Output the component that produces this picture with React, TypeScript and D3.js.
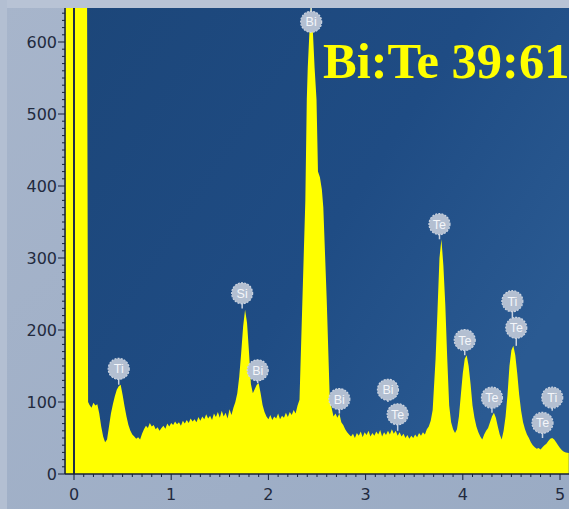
import React from "react";
import * as d3 from "d3";

const W = 569;
const H = 509;

const energies = [
  -0.09, 0.13, 0.145, 0.16, 0.18, 0.2, 0.22, 0.24, 0.26, 0.28, 0.3, 0.32, 0.34, 0.36, 0.38, 0.4, 0.42, 0.44, 0.46, 0.48,
  0.5, 0.52, 0.54, 0.56, 0.58, 0.6, 0.62, 0.64, 0.66, 0.68, 0.7, 0.72, 0.74, 0.76, 0.78, 0.8, 0.82, 0.84, 0.86, 0.88,
  0.9, 0.92, 0.94, 0.96, 0.98, 1.0, 1.02, 1.04, 1.06, 1.08, 1.1, 1.12, 1.14, 1.16, 1.18, 1.2, 1.22, 1.24, 1.26, 1.28,
  1.3, 1.32, 1.34, 1.36, 1.38, 1.4, 1.42, 1.44, 1.46, 1.48, 1.5, 1.52, 1.54, 1.56, 1.58, 1.6, 1.62, 1.64, 1.66, 1.68,
  1.7, 1.72, 1.74, 1.76, 1.78, 1.8, 1.82, 1.84, 1.86, 1.88, 1.9, 1.92, 1.94, 1.96, 1.98, 2.0, 2.02, 2.04, 2.06, 2.08,
  2.1, 2.12, 2.14, 2.16, 2.18, 2.2, 2.22, 2.24, 2.26, 2.28, 2.3, 2.32, 2.35, 2.38, 2.395, 2.405, 2.44, 2.475, 2.495, 2.51,
  2.53, 2.55, 2.565, 2.6, 2.63, 2.65, 2.67, 2.69, 2.71, 2.73, 2.75, 2.77, 2.79, 2.81, 2.83, 2.85, 2.87, 2.89, 2.91, 2.93,
  2.95, 2.97, 2.99, 3.01, 3.03, 3.05, 3.07, 3.09, 3.11, 3.13, 3.15, 3.17, 3.19, 3.21, 3.23, 3.25, 3.27, 3.29, 3.31, 3.33,
  3.35, 3.37, 3.39, 3.41, 3.43, 3.45, 3.47, 3.49, 3.51, 3.53, 3.55, 3.57, 3.59, 3.61, 3.63, 3.65, 3.67, 3.69, 3.72, 3.74,
  3.76, 3.78, 3.8, 3.82, 3.84, 3.86, 3.88, 3.9, 3.92, 3.94, 3.96, 3.98, 4.0, 4.02, 4.04, 4.06, 4.08, 4.1, 4.12, 4.14,
  4.16, 4.18, 4.2, 4.22, 4.24, 4.26, 4.28, 4.3, 4.32, 4.34, 4.36, 4.38, 4.4, 4.42, 4.44, 4.46, 4.48, 4.5, 4.52, 4.54,
  4.56, 4.58, 4.6, 4.62, 4.64, 4.66, 4.68, 4.7, 4.72, 4.74, 4.76, 4.78, 4.8, 4.82, 4.84, 4.86, 4.88, 4.9, 4.92, 4.94,
  4.96, 4.98, 5.0, 5.02, 5.04, 5.06, 5.09,
];

const counts = [
  900, 900, 100, 96, 92, 99, 95, 97, 84, 66, 52, 44, 48, 66, 84, 97, 108, 117, 122, 124,
  110, 94, 80, 68, 60, 55, 52, 49, 51, 48, 56, 62, 67, 64, 71, 66, 68, 62, 65, 60,
  64, 67, 63, 70, 66, 71, 68, 73, 69, 72, 67, 74, 70, 75, 71, 77, 73, 76, 72, 79,
  74, 80, 76, 83, 77, 81, 75, 84, 79, 86, 78, 88, 80, 85, 77, 90, 82, 92, 100, 112,
  135, 168, 205, 228, 210, 170, 125, 112, 118, 124, 126, 112, 96, 86, 80, 76, 82, 75, 80, 77,
  84, 76, 81, 78, 85, 79, 86, 82, 89, 84, 95, 103, 242, 380, 520, 565, 665, 565, 520, 420,
  412, 395, 370, 242, 110, 92, 80, 84, 78, 84, 72, 68, 62, 58, 55, 52, 56, 50, 57, 53,
  59, 51, 58, 54, 60, 52, 57, 53, 59, 55, 61, 52, 58, 54, 60, 55, 62, 56, 60, 53,
  58, 52, 56, 50, 54, 49, 53, 50, 55, 51, 57, 53, 58, 55, 62, 66, 74, 89, 160, 228,
  300, 326, 290, 235, 160, 95, 72, 62, 57, 62, 80, 110, 140, 160, 165, 150, 125, 95, 78, 66,
  58, 52, 48, 55, 60, 64, 72, 80, 85, 78, 66, 55, 48, 60, 80, 110, 150, 172, 178, 165,
  140, 110, 88, 72, 62, 55, 50, 44, 40, 37, 35, 36, 34, 37, 40, 42, 46, 49, 50, 48,
  44, 40, 36, 33, 31, 30, 29,
];

// peak marker badges: element, badge centre (energy, counts), stem end counts
const badgeText = ["Ti", "Si", "Bi", "Bi", "Bi", "Bi", "Te", "Te", "Te", "Te", "Ti", "Te", "Ti", "Te"];
const badgeEnergy = [0.46, 1.73, 1.89, 2.44, 2.73, 3.23, 3.33, 3.76, 4.02, 4.30, 4.51, 4.55, 4.92, 4.82];
const badgeCount = [146, 251, 144, 628, 104, 117, 83, 347, 186, 106, 240, 203, 106, 71];
const stemCount = [124, 230, 126, 652, 84, 100, 60, 326, 165, 85, 215, 178, 88, 50];

const yTicks = [0, 100, 200, 300, 400, 500, 600];
const xTicks = [0, 1, 2, 3, 4, 5];
const title = "Bi:Te 39:61";

export default function App() {
  const left = 65;
  const right = 569;
  const top = 8;
  const bottom = 474;

  const x = d3.scaleLinear().domain([0, 5]).range([74, 560]);
  const y = d3.scaleLinear().domain([0, 600]).range([474, 42]);
  const yMax = y.invert(top);

  const data = energies.map((e, i) => ({ e, c: counts[i] }));
  const area = d3
    .area<{ e: number; c: number }>()
    .x((d) => x(d.e))
    .y0(y(0))
    .y1((d) => y(d.c))
    .curve(d3.curveLinear);

  const minorY = d3.range(0, yMax, 10);
  const minorX = d3.range(0, 5.1, 0.1).map((v) => Math.round(v * 10) / 10);

  const axisColor = "#16213a";
  const labelColor = "#222a3e";
  const labelFont = "DejaVu Sans, Verdana, sans-serif";

  return (
    <svg width={W} height={H} style={{ position: "absolute", left: 0, top: 0 }}>
      <defs>
        <linearGradient id="bg" x1="0" y1="0" x2="1" y2="1">
          <stop offset="0" stopColor="#a7b5cb" />
          <stop offset="1" stopColor="#9aabc4" />
        </linearGradient>
        <linearGradient id="plotbg" x1="0" y1="0" x2="1" y2="0.6">
          <stop offset="0" stopColor="#1c4679" />
          <stop offset="0.6" stopColor="#1f4c84" />
          <stop offset="1" stopColor="#2a5a92" />
        </linearGradient>
        <clipPath id="plotclip">
          <rect x={left} y={top} width={right - left} height={bottom - top} />
        </clipPath>
      </defs>
      <rect x={0} y={0} width={W} height={H} fill="url(#bg)" />
      <rect x={0} y={0} width={W} height={top} fill="#b8c3d5" />
      <rect x={0} y={0} width={7} height={H} fill="#b3bfd2" />
      <rect x={left} y={top} width={right - left} height={bottom - top} fill="url(#plotbg)" />

      <g clipPath="url(#plotclip)">
        <path d={area(data) || ""} fill="#ffff00" />
        <line x1={x(0)} x2={x(0)} y1={top} y2={bottom} stroke="#1f2c48" strokeWidth={2} />
      </g>

      {/* y axis */}
      <line x1={left} x2={left} y1={top} y2={bottom} stroke={axisColor} strokeWidth={1.5} />
      {minorY.map((v) => (
        <line key={"my" + v} x1={left - (v % 100 === 0 ? 7 : 3)} x2={left} y1={y(v)} y2={y(v)} stroke={axisColor} strokeWidth={1} />
      ))}
      {yTicks.map((v) => (
        <text key={"ty" + v} x={left - 8} y={y(v) + 6} textAnchor="end" fontFamily={labelFont} fontSize={16} fill={labelColor}>
          {v}
        </text>
      ))}

      {/* x axis */}
      <line x1={left} x2={right} y1={bottom} y2={bottom} stroke={axisColor} strokeWidth={1.5} />
      {minorX.map((v) => (
        <line key={"mx" + v} x1={x(v)} x2={x(v)} y1={bottom} y2={bottom + (Math.abs(v - Math.round(v)) < 1e-6 ? 6 : 3)} stroke={axisColor} strokeWidth={1} />
      ))}
      {xTicks.map((v) => (
        <text key={"tx" + v} x={x(v)} y={500} textAnchor="middle" fontFamily={labelFont} fontSize={16} fill={labelColor}>
          {v}
        </text>
      ))}

      {/* badges */}
      {badgeText.map((t, i) => {
        const cx = x(badgeEnergy[i]);
        const cy = y(badgeCount[i]);
        const sy = Math.max(top, y(stemCount[i]));
        return (
          <g key={"b" + i}>
            <line x1={cx} x2={cx} y1={cy} y2={sy} stroke="#c9d2df" strokeWidth={1.5} />
            <circle cx={cx} cy={cy} r={10.5} fill="#b3bfd1" stroke="#cdd5e1" strokeWidth={1.2} strokeDasharray="2 1.2" />
            <text x={cx} y={cy + 4.5} textAnchor="middle" fontFamily="Liberation Sans, Arial, sans-serif" fontSize={12.5} fill="#f4f6fa">
              {t}
            </text>
          </g>
        );
      })}

      <text x={323} y={78} fontFamily="Liberation Serif, Times New Roman, serif" fontWeight="bold" fontSize={50.5} fill="#ffff00">
        {title}
      </text>
    </svg>
  );
}
